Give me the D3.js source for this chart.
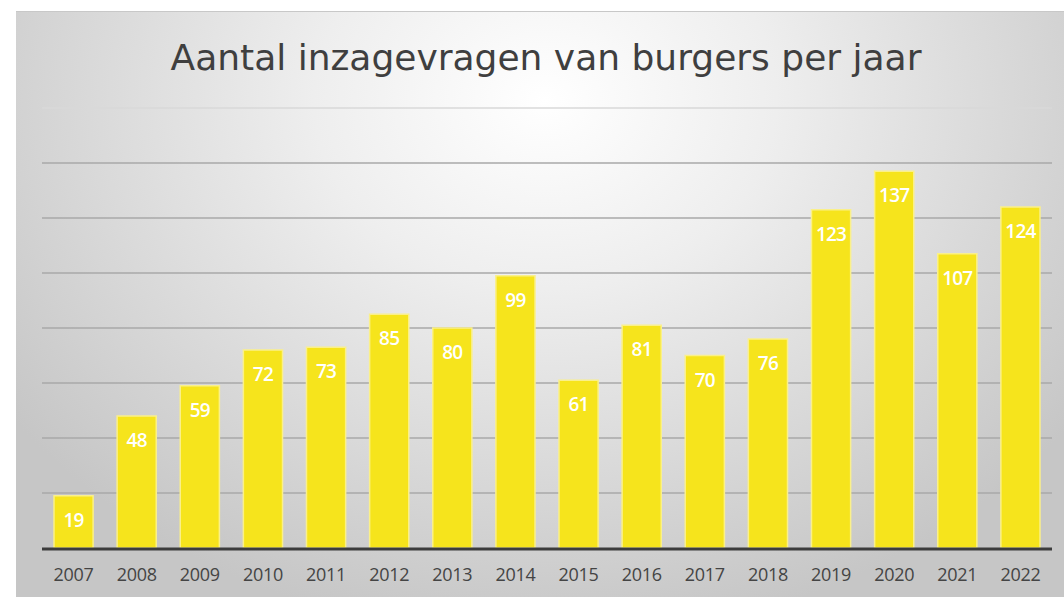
<!DOCTYPE html>
<html>
<head>
<meta charset="utf-8">
<script src="https://cdn.jsdelivr.net/npm/d3@7"></script>
<style>
  html, body { margin: 0; padding: 0; background: #fff; }
  svg { display: block; }
</style>
</head>
<body>
<svg id="chart" width="1064" height="597"></svg>
<script>
const title = "Aantal inzagevragen van burgers per jaar";
const years = ["2007","2008","2009","2010","2011","2012","2013","2014","2015","2016","2017","2018","2019","2020","2021","2022"];
const values = [19, 48, 59, 72, 73, 85, 80, 99, 61, 81, 70, 76, 123, 137, 107, 124];
const gridTicks = [20, 40, 60, 80, 100, 120, 140, 160];

const svg = d3.select("#chart");
const W = 1064, H = 597;

const defs = svg.append("defs");
const grad = defs.append("radialGradient")
  .attr("id", "bg").attr("gradientUnits", "userSpaceOnUse")
  .attr("cx", 545).attr("cy", 100).attr("r", 600)
  .attr("gradientTransform", "translate(545,100) scale(1.1,0.9) translate(-545,-100)");
grad.append("stop").attr("offset", "0").attr("stop-color", "#ffffff");
grad.append("stop").attr("offset", "0.35").attr("stop-color", "#eeeeee");
grad.append("stop").attr("offset", "1").attr("stop-color", "#c6c6c6");

// frame
svg.append("rect").attr("x", 16).attr("y", 11).attr("width", W - 16 + 5).attr("height", H - 11 + 5)
  .attr("fill", "url(#bg)");
svg.append("line").attr("x1", 16).attr("x2", W).attr("y1", 11.5).attr("y2", 11.5)
  .attr("stroke", "#c8c8c8").attr("stroke-width", 1);

const x = d3.scaleBand().domain(years).range([42, 1052]).paddingInner(0.38).paddingOuter(0.19);
const y = d3.scaleLinear().domain([0, 160]).range([548, 108]);

// gridlines
svg.append("g").selectAll("line").data(gridTicks).join("line")
  .attr("x1", 42).attr("x2", 1052)
  .attr("y1", d => y(d)).attr("y2", d => y(d))
  .attr("stroke", d => d === 160 ? "#d8d8d8" : "#a8a8a8")
  .attr("stroke-width", 1.5);

// bars
svg.append("g").selectAll("rect").data(values).join("rect")
  .attr("x", (d, i) => x(years[i]))
  .attr("y", d => y(d))
  .attr("width", x.bandwidth())
  .attr("height", d => y(0) - y(d))
  .attr("fill", "#f6e41c")
  .attr("stroke", "#faf08a")
  .attr("stroke-width", 1.5);

// value labels
svg.append("g").selectAll("text").data(values).join("text")
  .attr("x", (d, i) => x(years[i]) + x.bandwidth() / 2)
  .attr("y", d => y(d) + 31)
  .attr("text-anchor", "middle")
  .attr("fill", "#ffffff")
  .attr("font-family", "Open Sans, sans-serif")
  .attr("font-weight", 600)
  .attr("font-size", 19)
  .attr("letter-spacing", -0.8)
  .text(d => d);

// baseline
svg.append("line").attr("x1", 42).attr("x2", 1052).attr("y1", y(0) + 1).attr("y2", y(0) + 1)
  .attr("stroke", "#3c3c3c").attr("stroke-width", 3);

// x axis labels
const xAxis = d3.axisBottom(x).tickSize(0).tickPadding(0);
const gx = svg.append("g").attr("transform", `translate(0,${y(0) + 33})`).call(xAxis);
gx.select(".domain").remove();
gx.selectAll("text")
  .attr("dy", 0)
  .attr("fill", "#444")
  .attr("font-family", "Open Sans, sans-serif")
  .attr("font-size", 18)
  .attr("letter-spacing", -0.3);

// title
svg.append("text")
  .attr("x", 546).attr("y", 70)
  .attr("text-anchor", "middle")
  .attr("fill", "#3f3f3f")
  .attr("font-family", "DejaVu Sans, sans-serif")
  .attr("font-size", 36)
  .text(title);
</script>
</body>
</html>
